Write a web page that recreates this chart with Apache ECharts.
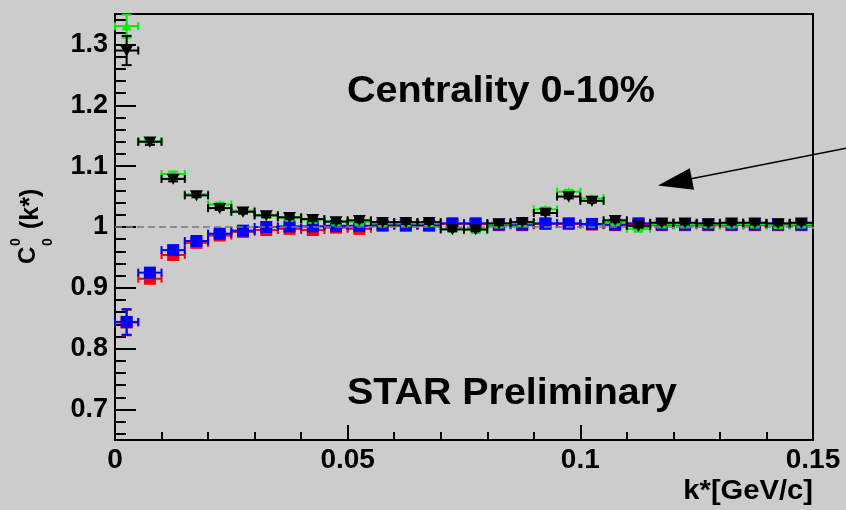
<!DOCTYPE html>
<html>
<head>
<meta charset="utf-8">
<script src="https://cdn.jsdelivr.net/npm/echarts@6/dist/echarts.min.js"></script>
<style>
  html, body { margin: 0; padding: 0; background: #cccccc; }
  #chart { width: 846px; height: 510px; }
</style>
</head>
<body>
<div id="chart"></div>
<script>
// Bin centres of k* [GeV/c] and half bin width
const kStar = [0.0025, 0.0075, 0.0125, 0.0175, 0.0225, 0.0275, 0.0325, 0.0375, 0.0425, 0.0475,
               0.0525, 0.0575, 0.0625, 0.0675, 0.0725, 0.0775, 0.0825, 0.0875, 0.0925, 0.0975,
               0.1025, 0.1075, 0.1125, 0.1175, 0.1225, 0.1275, 0.1325, 0.1375, 0.1425, 0.1475];
const kHalfWidth = 0.0025;

// Correlation function C_0^0(k*) for the four pair samples
const cGreen = [1.330, 1.141, 1.087, 1.054, 1.037, 1.027, 1.020, 1.015, 1.012, 1.008,
                1.008, 1.006, 1.006, 1.006, 0.997, 0.995, 1.004, 1.006, 1.029, 1.058,
                1.047, 1.008, 0.997, 1.004, 1.004, 1.004, 1.004, 1.004, 1.003, 1.004];
const eGreen = [0.019, 0.004, 0.004, 0.003, 0.003, 0.003, 0.003, 0.003, 0.003, 0.003,
                0.003, 0.003, 0.003, 0.003, 0.003, 0.003, 0.003, 0.003, 0.003, 0.003,
                0.003, 0.003, 0.003, 0.003, 0.003, 0.003, 0.003, 0.003, 0.003, 0.003];

const cBlack = [1.290, 1.140, 1.079, 1.052, 1.031, 1.025, 1.019, 1.016, 1.013, 1.009,
                1.011, 1.008, 1.008, 1.008, 0.996, 0.996, 1.006, 1.008, 1.023, 1.050,
                1.043, 1.011, 1.002, 1.007, 1.007, 1.006, 1.007, 1.007, 1.006, 1.007];
const eBlack = [0.024, 0.005, 0.004, 0.003, 0.003, 0.003, 0.003, 0.003, 0.003, 0.003,
                0.003, 0.003, 0.003, 0.003, 0.003, 0.003, 0.003, 0.003, 0.003, 0.003,
                0.003, 0.003, 0.003, 0.003, 0.003, 0.003, 0.003, 0.003, 0.003, 0.003];

const cRed = [0.843, 0.915, 0.954, 0.974, 0.986, 0.992, 0.995, 0.997, 0.995, 0.999,
              0.997, 1.002, 1.002, 1.002, 1.005, 1.005, 1.003, 1.003, 1.005, 1.005,
              1.004, 1.003, 1.005, 1.003, 1.003, 1.003, 1.003, 1.003, 1.003, 1.003];
const eRed = [0.021, 0.006, 0.004, 0.003, 0.003, 0.003, 0.003, 0.003, 0.003, 0.003,
              0.003, 0.003, 0.003, 0.003, 0.003, 0.003, 0.003, 0.003, 0.003, 0.003,
              0.003, 0.003, 0.003, 0.003, 0.003, 0.003, 0.003, 0.003, 0.003, 0.003];

const cBlue = [0.844, 0.925, 0.962, 0.977, 0.989, 0.994, 1.000, 1.001, 1.001, 1.002,
               1.002, 1.003, 1.003, 1.003, 1.006, 1.006, 1.004, 1.004, 1.006, 1.006,
               1.005, 1.004, 1.006, 1.004, 1.004, 1.004, 1.004, 1.004, 1.004, 1.004];
const eBlue = [0.021, 0.006, 0.004, 0.003, 0.003, 0.003, 0.003, 0.003, 0.003, 0.003,
               0.003, 0.003, 0.003, 0.003, 0.003, 0.003, 0.003, 0.003, 0.003, 0.003,
               0.003, 0.003, 0.003, 0.003, 0.003, 0.003, 0.003, 0.003, 0.003, 0.003];

// Axis ticks
const yMajorTicks = [0.7, 0.8, 0.9, 1.0, 1.1, 1.2, 1.3];
const yMinorTicks = [0.66, 0.68, 0.72, 0.74, 0.76, 0.78, 0.82, 0.84, 0.86, 0.88,
                     0.92, 0.94, 0.96, 0.98, 1.02, 1.04, 1.06, 1.08, 1.12, 1.14,
                     1.16, 1.18, 1.22, 1.24, 1.26, 1.28, 1.32, 1.34];

const FONT = '"Liberation Sans", Arial, Helvetica, sans-serif';

function toPoints(vals, errs) {
  return kStar.map((k, i) => [k, vals[i], errs[i]]);
}

// Error bars (x: bin width, y: stat. error) plus a marker of the given shape
function makeRenderer(color, shape, size) {
  return function (params, api) {
    const x = api.value(0), y = api.value(1), ey = api.value(2);
    const c = api.coord([x, y]);
    const l = api.coord([x - kHalfWidth, y]);
    const r = api.coord([x + kHalfWidth, y]);
    const t = api.coord([x, y + ey]);
    const b = api.coord([x, y - ey]);
    const ls = { stroke: color, lineWidth: 2 };
    const cap = 4;
    const children = [
      { type: 'line', shape: { x1: l[0], y1: c[1], x2: r[0], y2: c[1] }, style: ls },
      { type: 'line', shape: { x1: l[0], y1: c[1] - cap, x2: l[0], y2: c[1] + cap }, style: ls },
      { type: 'line', shape: { x1: r[0], y1: c[1] - cap, x2: r[0], y2: c[1] + cap }, style: ls },
      { type: 'line', shape: { x1: c[0], y1: t[1], x2: c[0], y2: b[1] }, style: ls },
      { type: 'line', shape: { x1: c[0] - 5, y1: t[1], x2: c[0] + 5, y2: t[1] }, style: ls },
      { type: 'line', shape: { x1: c[0] - 5, y1: b[1], x2: c[0] + 5, y2: b[1] }, style: ls }
    ];
    const h = size / 2;
    if (shape === 'square') {
      children.push({ type: 'rect', shape: { x: c[0] - h, y: c[1] - h, width: size, height: size },
                      style: { fill: color } });
    } else if (shape === 'down') {
      children.push({ type: 'polygon',
        shape: { points: [[c[0] - h, c[1] - h * 0.8], [c[0] + h, c[1] - h * 0.8], [c[0], c[1] + h * 0.9]] },
        style: { fill: color } });
    } else {
      children.push({ type: 'polygon',
        shape: { points: [[c[0] - h, c[1] + h * 0.8], [c[0] + h, c[1] + h * 0.8], [c[0], c[1] - h * 0.9]] },
        style: { fill: color } });
    }
    return { type: 'group', children: children };
  };
}

const chart = echarts.init(document.getElementById('chart'), null, { renderer: 'canvas' });

const fmt = v => String(+(+v).toFixed(3));

chart.setOption({
  animation: false,
  backgroundColor: '#cccccc',
  grid: {
    left: 115, right: 33, top: 14, bottom: 70,
    show: true, borderColor: '#000', borderWidth: 2, backgroundColor: 'transparent'
  },
  xAxis: {
    type: 'value', min: 0, max: 0.15, interval: 0.05,
    axisLine: { show: true, onZero: false, lineStyle: { color: '#000', width: 2 } },
    axisTick: { show: true, inside: true, length: 15, lineStyle: { color: '#000', width: 2 } },
    minorTick: { show: true, splitNumber: 5, length: 8, lineStyle: { color: '#000', width: 2 } },
    splitLine: { show: false },
    axisLabel: {
      margin: 6, color: '#000', fontFamily: FONT, fontWeight: 'bold', fontSize: 28,
      showMinLabel: true, showMaxLabel: true, formatter: fmt
    }
  },
  yAxis: [{
    type: 'value', min: 0.65, max: 1.35,
    axisLine: { show: true, onZero: false, lineStyle: { color: '#000', width: 2 } },
    axisTick: { show: true, inside: true, length: 21, customValues: yMajorTicks,
                lineStyle: { color: '#000', width: 2 } },
    splitLine: { show: false },
    axisLabel: {
      margin: 7, color: '#000', fontFamily: FONT, fontWeight: 'bold', fontSize: 27,
      customValues: yMajorTicks, formatter: fmt
    }
  }, {
    type: 'value', min: 0.65, max: 1.35, position: 'left', offset: 0,
    axisLine: { show: false },
    axisTick: { show: true, inside: true, length: 11, customValues: yMinorTicks,
                lineStyle: { color: '#000', width: 2 } },
    splitLine: { show: false },
    axisLabel: { show: false }
  }],
  series: [
    {
      type: 'custom', name: 'red', data: toPoints(cRed, eRed),
      renderItem: makeRenderer('#ff0000', 'square', 12),
      encode: { x: 0, y: 1 }, z: 2,
      markLine: {
        silent: true, symbol: 'none', label: { show: false },
        lineStyle: { color: '#7a7a7a', type: [7, 4], width: 1.5 },
        data: [{ yAxis: 1 }]
      }
    },
    {
      type: 'custom', name: 'blue', data: toPoints(cBlue, eBlue),
      renderItem: makeRenderer('#0000ff', 'square', 12),
      encode: { x: 0, y: 1 }, z: 3
    },
    {
      type: 'custom', name: 'green', data: toPoints(cGreen, eGreen),
      renderItem: makeRenderer('#00ee00', 'up', 10),
      encode: { x: 0, y: 1 }, z: 4
    },
    {
      type: 'custom', name: 'black', data: toPoints(cBlack, eBlack),
      renderItem: makeRenderer('#000000', 'down', 13),
      encode: { x: 0, y: 1 }, z: 5
    }
  ],
  graphic: [
    {
      type: 'text', x: 501, y: 92, scaleX: 1.07, z: 10,
      style: { text: 'Centrality 0-10%', font: 'bold 37px ' + FONT, fill: '#000',
               align: 'center', verticalAlign: 'middle', textAlign: 'center', textVerticalAlign: 'middle' }
    },
    {
      type: 'text', x: 512, y: 394, scaleX: 1.065, z: 10,
      style: { text: 'STAR Preliminary', font: 'bold 37px ' + FONT, fill: '#000',
               align: 'center', verticalAlign: 'middle', textAlign: 'center', textVerticalAlign: 'middle' }
    },
    {
      type: 'text', x: 813, y: 492, scaleX: 1.08, z: 10,
      style: { text: 'k*[GeV/c]', font: 'bold 27px ' + FONT, fill: '#000',
               align: 'right', verticalAlign: 'middle', textAlign: 'right', textVerticalAlign: 'middle' }
    },
    {
      // y-axis title C_0^0(k*), reading bottom to top
      type: 'group', x: 0, y: 265, rotation: Math.PI / 2, z: 10,
      children: [
        { type: 'text', x: 1, y: 28,
          style: { text: 'C', font: 'bold 24px ' + FONT, fill: '#000',
                   align: 'left', verticalAlign: 'middle', textAlign: 'left', textVerticalAlign: 'middle' } },
        { type: 'text', x: 19, y: 16,
          style: { text: '0', font: 'bold 14px ' + FONT, fill: '#000',
                   align: 'left', verticalAlign: 'middle', textAlign: 'left', textVerticalAlign: 'middle' } },
        { type: 'text', x: 19, y: 48,
          style: { text: '0', font: 'bold 14px ' + FONT, fill: '#000',
                   align: 'left', verticalAlign: 'middle', textAlign: 'left', textVerticalAlign: 'middle' } },
        { type: 'text', x: 36, y: 31,
          style: { text: '(k*)', font: 'bold 25px ' + FONT, fill: '#000',
                   align: 'left', verticalAlign: 'middle', textAlign: 'left', textVerticalAlign: 'middle' } }
      ]
    },
    {
      // annotation arrow
      type: 'group', z: 10,
      children: [
        { type: 'line', shape: { x1: 846, y1: 148.3, x2: 690, y2: 179 },
          style: { stroke: '#000', lineWidth: 1.5 } },
        { type: 'polygon', shape: { points: [[658, 185.5], [694, 189.8], [689.8, 168.2]] },
          style: { fill: '#000' } }
      ]
    }
  ]
});
</script>
</body>
</html>
